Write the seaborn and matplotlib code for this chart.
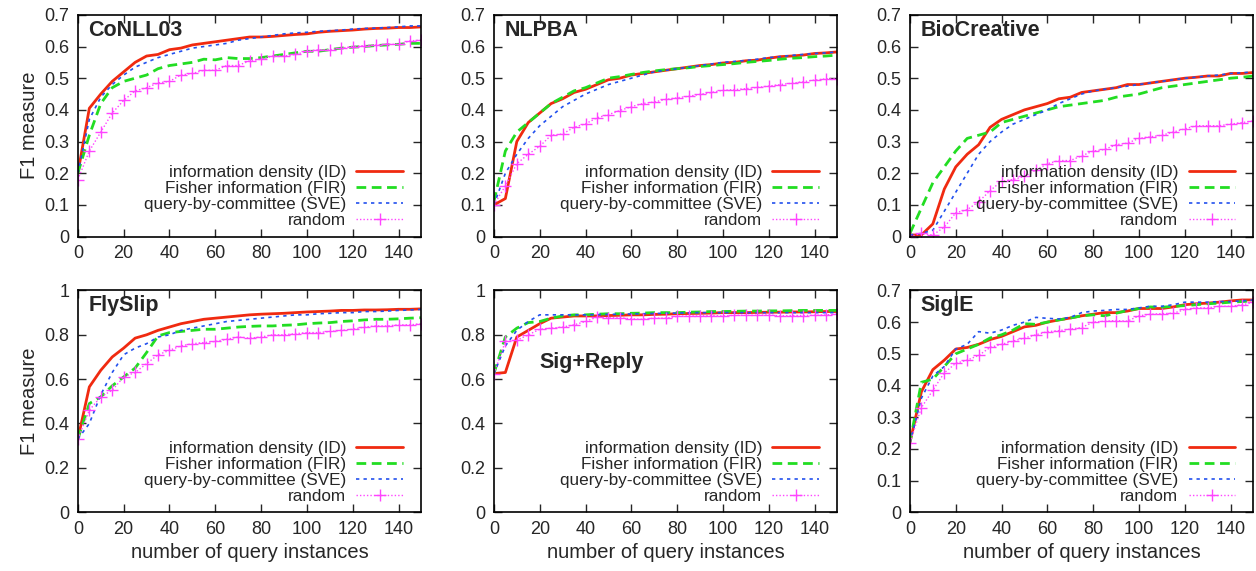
import numpy as np
import pandas as pd
import matplotlib
matplotlib.use("Agg")
import matplotlib.pyplot as plt
import seaborn as sns
from matplotlib.ticker import FuncFormatter

# ---------------- data ----------------
x_queries = list(range(0, 151, 5))

series_labels = ["information density (ID)", "Fisher information (FIR)",
                 "query-by-committee (SVE)", "random"]

dataset_names = ["CoNLL03", "NLPBA", "BioCreative", "FlySlip", "Sig+Reply", "SigIE"]

conll_id = [0.20, 0.405, 0.45, 0.49, 0.52, 0.55, 0.57, 0.575, 0.59, 0.595, 0.605, 0.61, 0.615, 0.62, 0.625, 0.63,
            0.63, 0.632, 0.635, 0.638, 0.64, 0.645, 0.648, 0.65, 0.652, 0.655, 0.657, 0.658, 0.66, 0.66, 0.662]
conll_fir = [0.20, 0.32, 0.42, 0.47, 0.49, 0.50, 0.51, 0.53, 0.54, 0.545, 0.55, 0.56, 0.558, 0.565, 0.562, 0.562,
             0.565, 0.57, 0.575, 0.58, 0.585, 0.585, 0.59, 0.595, 0.598, 0.60, 0.603, 0.605, 0.607, 0.61, 0.61]
conll_sve = [0.20, 0.37, 0.44, 0.48, 0.51, 0.535, 0.55, 0.565, 0.575, 0.585, 0.595, 0.60, 0.605, 0.61, 0.62, 0.625,
             0.63, 0.635, 0.64, 0.643, 0.645, 0.648, 0.65, 0.652, 0.655, 0.657, 0.658, 0.66, 0.662, 0.665, 0.665]
conll_rand = [0.18, 0.27, 0.33, 0.39, 0.43, 0.46, 0.47, 0.485, 0.49, 0.51, 0.515, 0.525, 0.525, 0.54, 0.54, 0.555,
              0.56, 0.57, 0.57, 0.575, 0.585, 0.59, 0.59, 0.595, 0.60, 0.603, 0.605, 0.607, 0.607, 0.618, 0.62]

nlpba_id = [0.10, 0.12, 0.30, 0.36, 0.39, 0.42, 0.435, 0.455, 0.465, 0.48, 0.495, 0.50, 0.51, 0.515, 0.52, 0.525,
            0.53, 0.535, 0.54, 0.543, 0.548, 0.55, 0.555, 0.557, 0.563, 0.568, 0.57, 0.573, 0.578, 0.58, 0.583]
nlpba_fir = [0.11, 0.27, 0.33, 0.36, 0.39, 0.42, 0.44, 0.46, 0.47, 0.485, 0.50, 0.505, 0.512, 0.518, 0.523, 0.527,
             0.53, 0.533, 0.537, 0.54, 0.543, 0.546, 0.55, 0.553, 0.556, 0.56, 0.563, 0.565, 0.568, 0.57, 0.573]
nlpba_sve = [0.10, 0.20, 0.26, 0.31, 0.35, 0.38, 0.41, 0.43, 0.45, 0.465, 0.48, 0.49, 0.50, 0.51, 0.52, 0.525,
             0.53, 0.535, 0.54, 0.545, 0.55, 0.553, 0.556, 0.56, 0.565, 0.568, 0.572, 0.575, 0.578, 0.58, 0.583]
nlpba_rand = [0.10, 0.16, 0.23, 0.26, 0.285, 0.32, 0.324, 0.345, 0.356, 0.375, 0.385, 0.398, 0.41, 0.42, 0.425, 0.433,
              0.438, 0.443, 0.449, 0.455, 0.462, 0.464, 0.467, 0.471, 0.475, 0.48, 0.484, 0.489, 0.494, 0.498, 0.498]

bio_id = [0.005, 0.005, 0.04, 0.15, 0.22, 0.26, 0.29, 0.345, 0.37, 0.385, 0.40, 0.41, 0.42, 0.435, 0.44, 0.455,
          0.46, 0.465, 0.47, 0.48, 0.48, 0.485, 0.49, 0.495, 0.50, 0.503, 0.507, 0.507, 0.515, 0.515, 0.518]
bio_fir = [0.01, 0.09, 0.17, 0.22, 0.27, 0.31, 0.32, 0.33, 0.36, 0.37, 0.38, 0.39, 0.40, 0.41, 0.415, 0.42,
           0.425, 0.43, 0.44, 0.445, 0.45, 0.46, 0.47, 0.475, 0.48, 0.485, 0.49, 0.495, 0.50, 0.503, 0.507]
bio_sve = [0.005, 0.01, 0.02, 0.08, 0.14, 0.20, 0.26, 0.30, 0.33, 0.355, 0.37, 0.385, 0.40, 0.42, 0.435, 0.45,
           0.46, 0.465, 0.47, 0.475, 0.48, 0.485, 0.49, 0.495, 0.50, 0.503, 0.507, 0.51, 0.515, 0.517, 0.52]
bio_rand = [0.00, 0.01, 0.005, 0.03, 0.075, 0.085, 0.11, 0.145, 0.175, 0.18, 0.19, 0.21, 0.23, 0.24, 0.24, 0.255,
            0.27, 0.275, 0.29, 0.295, 0.31, 0.315, 0.32, 0.33, 0.34, 0.35, 0.35, 0.35, 0.355, 0.36, 0.365]

fly_id = [0.33, 0.565, 0.64, 0.70, 0.74, 0.785, 0.80, 0.82, 0.835, 0.85, 0.86, 0.87, 0.875, 0.88, 0.885, 0.89,
          0.893, 0.895, 0.897, 0.90, 0.903, 0.905, 0.907, 0.91, 0.91, 0.912, 0.912, 0.913, 0.915, 0.915, 0.917]
fly_fir = [0.33, 0.49, 0.52, 0.57, 0.61, 0.65, 0.72, 0.795, 0.81, 0.815, 0.82, 0.825, 0.825, 0.83, 0.835, 0.838,
           0.84, 0.84, 0.843, 0.845, 0.85, 0.853, 0.855, 0.86, 0.863, 0.867, 0.87, 0.87, 0.872, 0.875, 0.877]
fly_sve = [0.33, 0.40, 0.53, 0.63, 0.71, 0.74, 0.76, 0.79, 0.80, 0.82, 0.83, 0.84, 0.85, 0.86, 0.865, 0.87,
           0.875, 0.88, 0.885, 0.89, 0.89, 0.895, 0.897, 0.90, 0.90, 0.905, 0.905, 0.907, 0.91, 0.912, 0.915]
fly_rand = [0.33, 0.46, 0.52, 0.55, 0.61, 0.63, 0.67, 0.71, 0.73, 0.75, 0.76, 0.765, 0.77, 0.78, 0.79, 0.785,
            0.79, 0.80, 0.80, 0.805, 0.81, 0.81, 0.815, 0.82, 0.825, 0.835, 0.84, 0.84, 0.845, 0.845, 0.85]

sig_id = [0.625, 0.63, 0.79, 0.82, 0.85, 0.875, 0.88, 0.885, 0.885, 0.885, 0.887, 0.888, 0.89, 0.89, 0.892, 0.893,
          0.895, 0.896, 0.897, 0.898, 0.90, 0.90, 0.90, 0.901, 0.902, 0.902, 0.903, 0.903, 0.904, 0.905, 0.905]
sig_fir = [0.625, 0.79, 0.83, 0.855, 0.86, 0.875, 0.885, 0.89, 0.89, 0.893, 0.895, 0.895, 0.897, 0.898, 0.90, 0.90,
           0.90, 0.902, 0.903, 0.905, 0.905, 0.906, 0.907, 0.907, 0.908, 0.908, 0.909, 0.91, 0.91, 0.91, 0.91]
sig_sve = [0.625, 0.75, 0.82, 0.86, 0.89, 0.89, 0.89, 0.89, 0.89, 0.891, 0.892, 0.893, 0.894, 0.895, 0.896, 0.897,
           0.898, 0.899, 0.90, 0.90, 0.90, 0.90, 0.90, 0.90, 0.90, 0.90, 0.90, 0.90, 0.90, 0.90, 0.90]
sig_rand = [0.625, 0.77, 0.775, 0.80, 0.825, 0.83, 0.835, 0.845, 0.86, 0.88, 0.877, 0.877, 0.872, 0.87, 0.875, 0.875,
            0.883, 0.885, 0.885, 0.887, 0.885, 0.888, 0.888, 0.888, 0.89, 0.885, 0.887, 0.887, 0.888, 0.89, 0.893]

sigie_id = [0.22, 0.38, 0.45, 0.48, 0.515, 0.52, 0.53, 0.545, 0.555, 0.57, 0.585, 0.59, 0.60, 0.607, 0.613, 0.62,
            0.625, 0.63, 0.63, 0.635, 0.643, 0.643, 0.643, 0.648, 0.655, 0.658, 0.66, 0.663, 0.667, 0.67, 0.67]
sigie_fir = [0.22, 0.41, 0.42, 0.46, 0.50, 0.515, 0.53, 0.55, 0.56, 0.575, 0.595, 0.593, 0.60, 0.607, 0.613, 0.62,
             0.623, 0.62, 0.628, 0.637, 0.643, 0.648, 0.647, 0.65, 0.652, 0.655, 0.658, 0.66, 0.663, 0.665, 0.667]
sigie_sve = [0.22, 0.36, 0.43, 0.46, 0.515, 0.53, 0.57, 0.565, 0.575, 0.59, 0.60, 0.615, 0.612, 0.61, 0.615, 0.63,
             0.635, 0.637, 0.64, 0.64, 0.645, 0.65, 0.65, 0.655, 0.663, 0.663, 0.663, 0.665, 0.665, 0.667, 0.67]
sigie_rand = [0.22, 0.33, 0.385, 0.44, 0.47, 0.48, 0.495, 0.52, 0.53, 0.54, 0.55, 0.56, 0.57, 0.573, 0.578, 0.583,
              0.60, 0.603, 0.605, 0.603, 0.62, 0.625, 0.627, 0.628, 0.64, 0.645, 0.645, 0.65, 0.65, 0.655, 0.662]

panel_series = {
    "CoNLL03": [conll_id, conll_fir, conll_sve, conll_rand],
    "NLPBA": [nlpba_id, nlpba_fir, nlpba_sve, nlpba_rand],
    "BioCreative": [bio_id, bio_fir, bio_sve, bio_rand],
    "FlySlip": [fly_id, fly_fir, fly_sve, fly_rand],
    "Sig+Reply": [sig_id, sig_fir, sig_sve, sig_rand],
    "SigIE": [sigie_id, sigie_fir, sigie_sve, sigie_rand],
}
panel_ymax = {"CoNLL03": 0.7, "NLPBA": 0.7, "BioCreative": 0.7,
              "FlySlip": 1.0, "Sig+Reply": 1.0, "SigIE": 0.7}

# ---------------- style ----------------
sns.set_style("ticks")
plt.rcParams["font.family"] = ["Liberation Sans", "DejaVu Sans"]
plt.rcParams["xtick.direction"] = "in"
plt.rcParams["ytick.direction"] = "in"

colors = ["#f02a10", "#22dd22", "#2250ee", "#ff44ff"]
dashes = [(None, None), (3.5, 2.0), (2.0, 2.5), (1.0, 1.5)]
widths = [2.0, 2.0, 1.2, 1.0]

fig, axes = plt.subplots(2, 3, figsize=(12.56, 5.71), dpi=100)
fig.subplots_adjust(left=0.062, right=0.998, top=0.974, bottom=0.103, wspace=0.211, hspace=0.243)

for idx, (ax, name) in enumerate(zip(axes.flat, dataset_names)):
    rows = []
    for lab, vals in zip(series_labels, panel_series[name]):
        for xv, yv in zip(x_queries, vals):
            rows.append({"x": xv, "y": yv, "method": lab})
    df = pd.DataFrame(rows)
    for k, lab in enumerate(series_labels):
        sub = df[df["method"] == lab]
        kw = {}
        if lab == "random":
            kw = dict(marker="+", markersize=9, markeredgewidth=1.0,
                      markeredgecolor=colors[k], markerfacecolor=colors[k])
        sns.lineplot(data=sub, x="x", y="y", ax=ax, color=colors[k], linewidth=widths[k],
                     label=lab, **kw)
        line = ax.get_lines()[-1]
        if dashes[k][0] is not None:
            line.set_dashes(dashes[k])
    ymax = panel_ymax[name]
    ax.set_xlim(0, 150)
    ax.set_ylim(0, ymax)
    ax.set_xticks(range(0, 141, 20))
    if ymax == 0.7:
        ax.set_yticks(np.arange(0, 0.71, 0.1))
    else:
        ax.set_yticks(np.arange(0, 1.01, 0.2))
    ax.yaxis.set_major_formatter(FuncFormatter(lambda v, p: f"{v:g}"))
    ax.tick_params(axis="both", which="both", direction="in", top=True, right=True,
                   labelsize=13, length=6, width=1.0, pad=6)
    for sp in ax.spines.values():
        sp.set_visible(True)
        sp.set_linewidth(1.2)
        sp.set_color("black")
    ax.set_xlabel("number of query instances" if idx >= 3 else "", fontsize=14.5)
    ax.set_ylabel("F1 measure" if idx % 3 == 0 else "", fontsize=14.5)
    if name == "Sig+Reply":
        ax.text(20, 0.675, name, fontsize=15.5, fontweight="bold", va="center", ha="left")
    else:
        ax.text(0.03, 0.93, name, transform=ax.transAxes, fontsize=15.5, fontweight="bold",
                va="center", ha="left")
    ax.legend(loc="lower right", frameon=False, markerfirst=False, fontsize=12.3,
              handlelength=2.7, labelspacing=0.05, borderaxespad=0.2, handletextpad=0.6,
              borderpad=0.3, bbox_to_anchor=(0.97, 0.0))

fig.savefig("out.png", dpi=100)
